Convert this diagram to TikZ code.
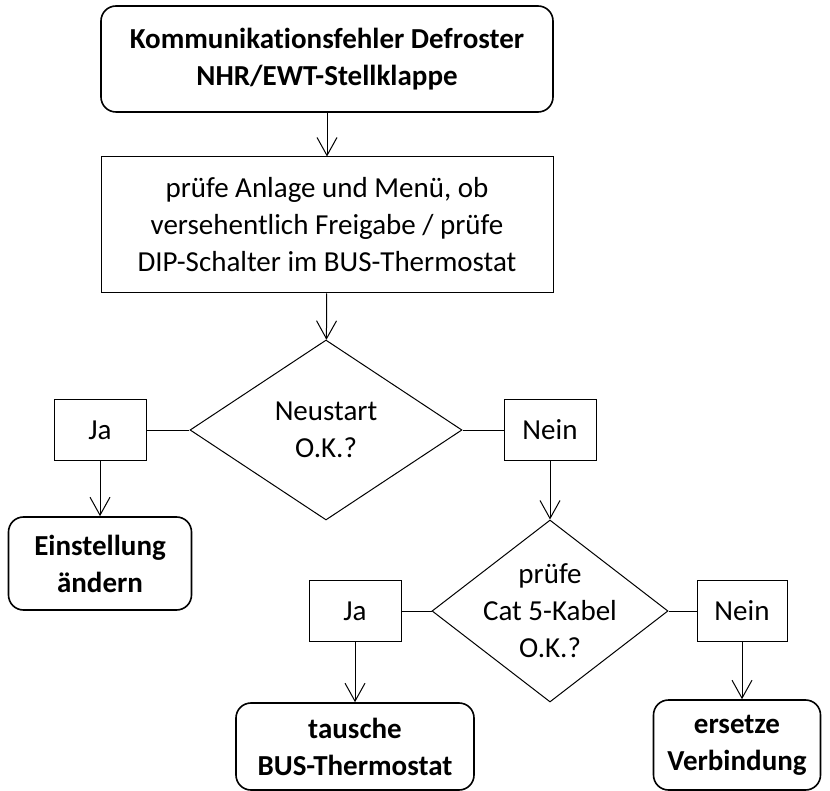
\documentclass[tikz,border=0pt]{standalone}
\usepackage{fontspec}
\setmainfont{Carlito}[Ligatures=NoCommon]
\usetikzlibrary{
    arrows.meta,
    shapes.geometric
}

\begin{document}
\begin{tikzpicture}[
    x=1pt, y=-1pt,
    >={Straight Barb[length=18pt,width=20pt]},
    font=\fontsize{29}{37}\selectfont,
    terminal/.style={draw, rounded corners=15pt, line width=1.6pt, align=center,
        inner sep=0pt, font=\fontsize{29}{37}\selectfont\bfseries},
    process/.style={draw, line width=1pt, align=center, inner sep=0pt},
    decision/.style={draw, diamond, line width=1pt, inner sep=0pt},
    answer/.style={draw, line width=1pt, inner sep=0pt,
        minimum width=92pt, minimum height=61pt},
    flow/.style={->, line width=1pt}
]

\useasboundingbox (0,0) rectangle (830,791);

% start and first check
\node[terminal, minimum width=452, minimum height=106] (start) at (327,59)
    {Kommunikationsfehler Defroster\\NHR/EWT-Stellklappe};
\node[process, minimum width=452, minimum height=136] (menu) at (327,225)
    {prüfe Anlage und Menü, ob\\versehentlich Freigabe / prüfe\\DIP-Schalter im BUS-Thermostat};

% first decision
\node[decision, minimum width=272, minimum height=180] (restart) at (326,430) {};
\node[align=center, inner sep=0pt] (restartText) at (restart) {Neustart\\O.K.?};

\node[answer] (yesRestart) at (100,430) {Ja};
\node[answer] (noRestart) at (550,430) {Nein};

\node[terminal, minimum width=183, minimum height=93] (setting) at (100,563.5)
    {Einstellung\\ändern};

% second decision
\node[decision, minimum width=236, minimum height=182] (cable) at (550,611) {};
\node[align=center, inner sep=0pt] (cableText) at (cable) {prüfe\\Cat 5-Kabel\\O.K.?};

\node[answer] (yesCable) at (355,611) {Ja};
\node[answer, minimum width=90] (noCable) at (742,611) {Nein};

\node[terminal, minimum width=238, minimum height=87] (swap) at (355,746.5)
    {tausche\\BUS-Thermostat};
\node[terminal, minimum width=167, minimum height=90] (replace) at (737,745)
    {ersetze\\Verbindung};

\draw[flow] (start) -- (menu);
\draw[flow] (menu) -- (restart);

\draw[line width=1pt] (yesRestart) -- (restart);
\draw[line width=1pt] (restart) -- (noRestart);
\draw[flow] (yesRestart) -- (setting);
\draw[flow] (noRestart) -- (cable);

\draw[line width=1pt] (yesCable) -- (cable);
\draw[line width=1pt] (cable) -- (noCable);
\draw[flow] (yesCable) -- (swap);
\draw[flow] (noCable.south) -- (noCable.south |- replace.north);

\end{tikzpicture}
\end{document}
